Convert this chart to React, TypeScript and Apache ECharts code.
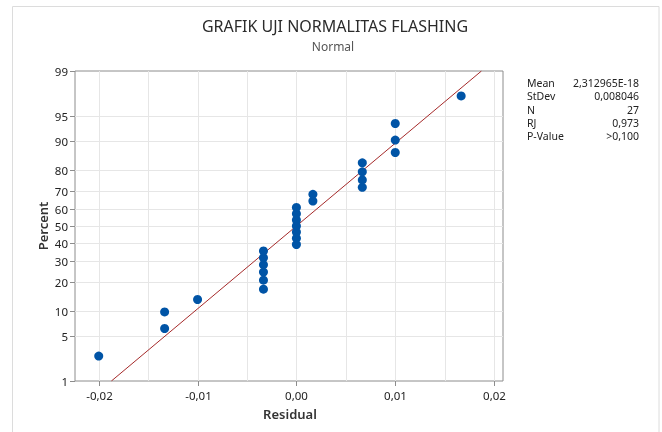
import React, { useEffect, useRef } from "react";
import * as echarts from "echarts";

// ---- data ----
const residuals = [
  -0.02, -0.013333, -0.013333, -0.01,
  -0.003333, -0.003333, -0.003333, -0.003333, -0.003333, -0.003333,
  0, 0, 0, 0, 0, 0, 0,
  0.001667, 0.001667,
  0.006667, 0.006667, 0.006667, 0.006667,
  0.01, 0.01, 0.01,
  0.016667,
];
const percents = [
  2.55, 6.2, 9.85, 13.5, 17.15, 20.8, 24.45, 28.1, 31.75, 35.4, 39.05, 42.7,
  46.35, 50.0, 53.65, 57.3, 60.95, 64.6, 68.25, 71.9, 75.55, 79.2, 82.85, 86.5,
  90.15, 93.8, 97.45,
];
const percentTicks = [1, 5, 10, 20, 30, 40, 50, 60, 70, 80, 90, 95, 99];
const xGridValues = [-0.02, -0.015, -0.01, -0.005, 0, 0.005, 0.01, 0.015, 0.02];
const xTickValues = [-0.02, -0.01, 0, 0.01, 0.02];
const xTickLabels = ["-0,02", "-0,01", "0,00", "0,01", "0,02"];
const fitPercents = [1, 99];
const MEAN = 2.312965e-18;
const SD = 0.008046;
const statLabels = ["Mean", "StDev", "N", "RJ", "P-Value"];
const statValues = ["2,312965E-18", "0,008046", "27", "0,973", ">0,100"];

const X_MIN = -0.0224;
const X_MAX = 0.0209;

// inverse standard normal CDF (probability-scale transform)
function probit(p: number): number {
  const a = [-39.69683028665376, 220.9460984245205, -275.9285104469687, 138.357751867269, -30.66479806614716, 2.506628277459239];
  const b = [-54.47609879822406, 161.5858368580409, -155.6989798598866, 66.80131188771972, -13.28068155288572];
  const c = [-0.007784894002430293, -0.3223964580411365, -2.400758277161838, -2.549732539343734, 4.374664141464968, 2.938163982698783];
  const d = [0.007784695709041462, 0.3224671290700398, 2.445134137142996, 3.754408661907416];
  const pl = 0.02425;
  let q: number, r: number;
  if (p < pl) {
    q = Math.sqrt(-2 * Math.log(p));
    return (((((c[0] * q + c[1]) * q + c[2]) * q + c[3]) * q + c[4]) * q + c[5]) / ((((d[0] * q + d[1]) * q + d[2]) * q + d[3]) * q + 1);
  }
  if (p <= 1 - pl) {
    q = p - 0.5;
    r = q * q;
    return ((((((a[0] * r + a[1]) * r + a[2]) * r + a[3]) * r + a[4]) * r + a[5]) * q) / (((((b[0] * r + b[1]) * r + b[2]) * r + b[3]) * r + b[4]) * r + 1);
  }
  q = Math.sqrt(-2 * Math.log(1 - p));
  return -(((((c[0] * q + c[1]) * q + c[2]) * q + c[3]) * q + c[4]) * q + c[5]) / ((((d[0] * q + d[1]) * q + d[2]) * q + d[3]) * q + 1);
}

const FONT = "'Noto Sans', 'Open Sans', sans-serif";
const Y_MIN = probit(0.01);
const Y_MAX = probit(0.99);

export default function App() {
  const ref = useRef<HTMLDivElement>(null);
  useEffect(() => {
    if (!ref.current) return;
    const chart = echarts.init(ref.current, undefined, { renderer: "svg" });
    const points = residuals.map((x, i) => [x, probit(percents[i] / 100)]);
    const fit = fitPercents.map((p) => {
      const z = probit(p / 100);
      return [MEAN + z * SD, z];
    });

    const graphics: any[] = [
      {
        type: "rect",
        shape: { x: 12.5, y: 6.5, width: 646.5, height: 440 },
        style: { fill: "none", stroke: "#dcdcdc", lineWidth: 1 },
        silent: true,
        z: -10,
      },
      {
        type: "text",
        x: 335,
        y: 34,
        style: { text: "GRAFIK UJI NORMALITAS FLASHING", align: "center", verticalAlign: "bottom", lineHeight: 16, fill: "#2b2b2b", font: `16px ${FONT}` },
      },
      {
        type: "text",
        x: 333,
        y: 40,
        style: { text: "Normal", align: "center", verticalAlign: "top", lineHeight: 12, fill: "#555", font: `12px ${FONT}` },
      },
      {
        type: "text",
        x: 43,
        y: 226,
        rotation: Math.PI / 2,
        style: { text: "Percent", align: "center", verticalAlign: "middle", fill: "#333", font: `600 13px ${FONT}` },
      },
      {
        type: "text",
        x: 290,
        y: 414,
        style: { text: "Residual", align: "center", verticalAlign: "middle", fill: "#333", font: `600 13px ${FONT}` },
      },
    ];
    statLabels.forEach((t, i) => {
      graphics.push({
        type: "text",
        x: 527,
        y: 83 + i * 13.3,
        style: { text: t, align: "left", verticalAlign: "middle", fill: "#222", font: `10.5px ${FONT}` },
      });
      graphics.push({
        type: "text",
        x: 639,
        y: 83 + i * 13.3,
        style: { text: statValues[i], align: "right", verticalAlign: "middle", fill: "#222", font: `10.5px ${FONT}` },
      });
    });

    chart.setOption({
      animation: false,
      grid: { left: 75, right: 159, top: 71, bottom: 51, show: true, borderColor: "#8c8c8c", borderWidth: 1, backgroundColor: "transparent" },
      xAxis: { type: "value", min: X_MIN, max: X_MAX, show: false },
      yAxis: { type: "value", min: Y_MIN, max: Y_MAX, show: false },
      graphic: graphics,
      series: [
        {
          type: "custom",
          clip: false,
          z: 1,
          silent: true,
          data: percentTicks.map((p) => [X_MIN, probit(p / 100)]),
          renderItem: (params: any, api: any) => {
            const y = Math.round(api.coord([X_MIN, api.value(1)])[1]) + 0.5;
            const cs = params.coordSys;
            const p = percentTicks[params.dataIndex];
            const children: any[] = [];
            if (p > 1 && p < 99) {
              children.push({ type: "line", shape: { x1: cs.x, y1: y, x2: cs.x + cs.width, y2: y }, style: { stroke: "#e6e6e6", lineWidth: 1 } });
            }
            children.push({ type: "line", shape: { x1: cs.x - 5, y1: y, x2: cs.x, y2: y }, style: { stroke: "#8c8c8c", lineWidth: 1 } });
            children.push({ type: "text", style: { text: String(p), x: cs.x - 7, y: y, align: "right", verticalAlign: "middle", fill: "#222", font: `11.5px ${FONT}` } });
            return { type: "group", children };
          },
        },
        {
          type: "custom",
          clip: false,
          z: 1,
          silent: true,
          data: xGridValues.map((v) => [v, Y_MIN]),
          renderItem: (params: any, api: any) => {
            const v = api.value(0);
            const x = Math.round(api.coord([v, Y_MIN])[0]) + 0.5;
            const cs = params.coordSys;
            const bottom = cs.y + cs.height;
            const children: any[] = [
              { type: "line", shape: { x1: x, y1: cs.y, x2: x, y2: bottom }, style: { stroke: "#e6e6e6", lineWidth: 1 } },
            ];
            const idx = xTickValues.findIndex((t) => Math.abs(t - v) < 1e-9);
            if (idx >= 0) {
              children.push({ type: "line", shape: { x1: x, y1: bottom, x2: x, y2: bottom + 5 }, style: { stroke: "#8c8c8c", lineWidth: 1 } });
              children.push({ type: "text", style: { text: xTickLabels[idx], x: x, y: bottom + 14, align: "center", verticalAlign: "middle", fill: "#222", font: `11.5px ${FONT}` } });
            }
            return { type: "group", children };
          },
        },
        {
          type: "line",
          data: fit,
          symbol: "none",
          z: 3,
          lineStyle: { color: "#a52a2a", width: 1 },
          silent: true,
        },
        {
          type: "scatter",
          data: points,
          symbol: "circle",
          symbolSize: 9,
          z: 4,
          itemStyle: { color: "#0054a6", opacity: 1 },
          silent: true,
        },
      ],
    });
    return () => chart.dispose();
  }, []);
  return <div ref={ref} style={{ position: "fixed", left: 0, top: 0, width: 662, height: 432 }} />;
}
